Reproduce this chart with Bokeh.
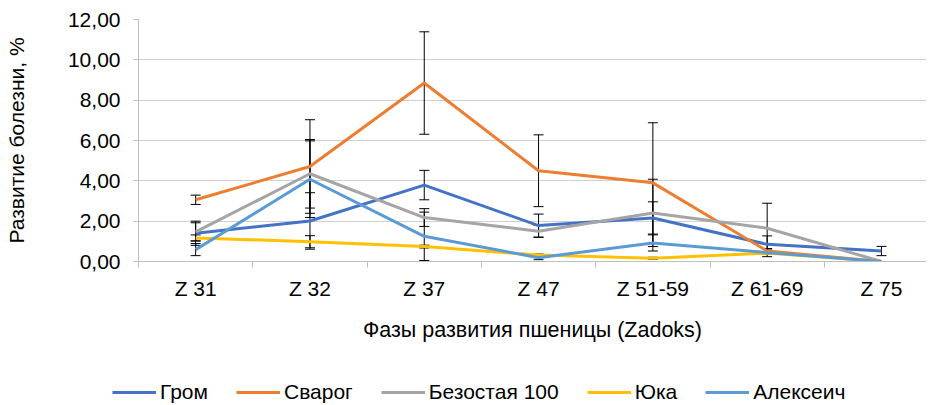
import numpy as np
from bokeh.plotting import figure
from bokeh.models import (ColumnDataSource, Range1d, FixedTicker, Whisker, TeeHead,
                          Legend, LegendItem)
from bokeh.embed import file_html
from bokeh.resources import INLINE

# ---- data ----
categories = ["Z 31", "Z 32", "Z 37", "Z 47", "Z 51-59", "Z 61-69", "Z 75"]
series_names = ["Гром", "Сварог", "Безостая 100", "Юка", "Алексеич"]

grom = [1.40, 2.01, 3.79, 1.78, 2.16, 0.85, 0.52]
grom_err = [0.60, 1.40, 0.73, 0.57, 0.80, 0.42, 0.23]

svarog = [3.06, 4.71, 8.85, 4.50, 3.90, 0.52, 0.00]
svarog_err = [0.23, 2.32, 2.54, 1.78, 2.98, 0.10, 0.00]

bezostaya = [1.47, 4.35, 2.18, 1.50, 2.41, 1.65, 0.00]
bezostaya_err = [0.45, 1.70, 0.44, 0.30, 1.67, 1.24, 0.00]

yuka = [1.17, 0.98, 0.74, 0.32, 0.16, 0.42, 0.00]
yuka_err = [0.15, 0.30, 0.07, 0.05, 0.05, 0.05, 0.00]

alekseich = [0.59, 4.08, 1.25, 0.19, 0.92, 0.44, 0.00]
alekseich_err = [0.30, 1.90, 1.20, 0.10, 0.40, 0.20, 0.00]

y_ticks = [0, 2, 4, 6, 8, 10, 12]
y_tick_labels = ["0,00", "2,00", "4,00", "6,00", "8,00", "10,00", "12,00"]

colors = ["#4472C4", "#ED7D31", "#A5A5A5", "#FFC000", "#5B9BD5"]
values = [grom, svarog, bezostaya, yuka, alekseich]
errors = [grom_err, svarog_err, bezostaya_err, yuka_err, alekseich_err]

FONT = "Liberation Sans"
FS = "21px"

xpos = np.arange(len(categories)) + 0.5

p = figure(frame_width=788, frame_height=242, output_backend="svg", toolbar_location=None,
           x_range=Range1d(0, 6.894), y_range=Range1d(0, 12),
           min_border_left=138, min_border_top=19, min_border_right=0, min_border_bottom=96)
p.outline_line_color = None
p.background_fill_color = "white"
p.border_fill_color = "white"

# x axis
xt = FixedTicker(ticks=list(xpos), minor_ticks=list(np.arange(len(categories) + 1)))
p.xaxis.ticker = xt
p.xaxis.major_label_overrides = {float(x): c for x, c in zip(xpos, categories)}
p.xaxis.major_tick_out = 0
p.xaxis.major_tick_in = 0
p.xaxis.minor_tick_out = 6
p.xaxis.minor_tick_in = 0
p.xaxis.minor_tick_line_color = "#BFBFBF"
p.xaxis.axis_line_color = "#BFBFBF"
p.xaxis.major_label_text_font = FONT
p.xaxis.major_label_text_font_size = FS
p.xaxis.major_label_text_color = "black"
p.xaxis.major_label_standoff = 9
p.xaxis.axis_label = "Фазы развития пшеницы (Zadoks)"
p.xaxis.axis_label_text_font = FONT
p.xaxis.axis_label_text_font_size = "21.5px"
p.xaxis.axis_label_text_font_style = "normal"
p.xaxis.axis_label_text_color = "black"
p.xaxis.axis_label_standoff = 15
p.xgrid.visible = False

# y axis
p.yaxis.ticker = FixedTicker(ticks=y_ticks, minor_ticks=[])
p.yaxis.major_label_overrides = {t: l for t, l in zip(y_ticks, y_tick_labels)}
p.yaxis.major_tick_out = 5
p.yaxis.major_tick_in = 0
p.yaxis.major_tick_line_color = "#BFBFBF"
p.yaxis.axis_line_color = "#BFBFBF"
p.yaxis.major_label_text_font = FONT
p.yaxis.major_label_text_font_size = FS
p.yaxis.major_label_text_color = "black"
p.yaxis.major_label_standoff = 13
p.yaxis.axis_label = "Развитие болезни, %"
p.yaxis.axis_label_text_font = FONT
p.yaxis.axis_label_text_font_size = FS
p.yaxis.axis_label_text_font_style = "normal"
p.yaxis.axis_label_text_color = "black"
p.yaxis.axis_label_standoff = 37
p.ygrid.grid_line_color = "#D0D0D0"
p.ygrid.grid_line_width = 1

for name, vals, errs, col in zip(series_names, values, errors, colors):
    v = np.array(vals)
    e = np.array(errs)
    src = ColumnDataSource(dict(x=xpos, y=v, upper=v + e, lower=np.maximum(v - e, 0)))
    p.line("x", "y", source=src, line_color=col, line_width=3, line_join="round")
    w = Whisker(source=src, base="x", upper="upper", lower="lower",
                line_color="black", line_width=1,
                upper_head=TeeHead(size=10, line_color="black", line_width=1),
                lower_head=TeeHead(size=10, line_color="black", line_width=1))
    p.add_layout(w)

# ---- legend strip below the chart (series drawn out of view, only the legend shows) ----
lg = figure(width=926, height=47, output_backend="svg", toolbar_location=None,
            x_range=Range1d(0, 7), y_range=Range1d(100, 101),
            min_border_left=0, min_border_right=0, min_border_top=0, min_border_bottom=0)
lg.axis.visible = False
lg.grid.visible = False
lg.outline_line_color = None
items = []
for name, vals, col in zip(series_names, values, colors):
    r = lg.line(x=xpos, y=vals, line_color=col, line_width=3)
    items.append(LegendItem(label=name, renderers=[r]))

legend = Legend(items=items, orientation="horizontal", location=(112, 0))
legend.label_text_font = FONT
legend.label_text_font_size = FS
legend.label_text_color = "black"
legend.glyph_width = 44
legend.glyph_height = 20
legend.label_height = 20
legend.label_standoff = 4
legend.spacing = 28
legend.padding = 0
legend.margin = 0
legend.border_line_color = None
legend.background_fill_alpha = 0
lg.add_layout(legend, "center")

open("out.html", "w").write(file_html([p, lg], INLINE))
